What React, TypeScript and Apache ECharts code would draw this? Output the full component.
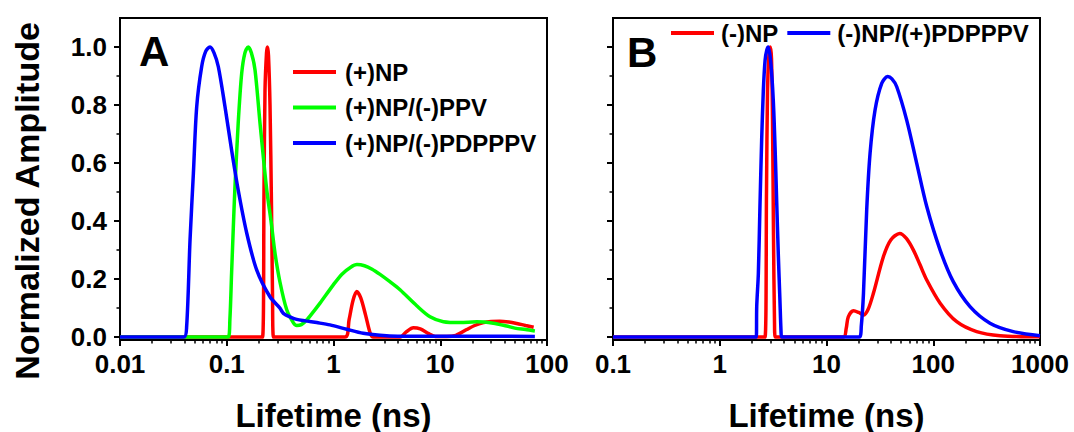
import React, { useEffect, useRef } from "react";
import * as echarts from "echarts";

// ---------- data ----------
const namesA = ["(+)NP", "(+)NP/(-)PPV", "(+)NP/(-)PDPPPV"];
const namesB = ["(-)NP", "(-)NP/(+)PDPPPV"];

const npPlus: [number, number][] = [
  [0.01, 0], [0.2163, 0], [0.2233, 0.5], [0.2282, 0.85], [0.2358, 0.98], [0.2408, 1.0],
  [0.2461, 0.97], [0.2542, 0.8], [0.2625, 0.45], [0.2683, 0.15], [0.2741, 0],
  [1.28, 0], [1.4, 0.06], [1.52, 0.125], [1.65, 0.157], [1.8, 0.135], [2.0, 0.075],
  [2.2, 0.015], [2.35, 0], [4.2, 0], [4.8, 0.018], [5.6, 0.032], [6.5, 0.028],
  [7.8, 0.012], [9.0, 0.002], [11.5, 0.002], [14, 0.006], [17.7, 0.026], [21, 0.04],
  [25.4, 0.05], [30, 0.054], [36, 0.055], [44, 0.052], [52, 0.047], [63, 0.04], [75, 0.034],
];

const npPpv: [number, number][] = [
  [0.01, 0], [0.103, 0], [0.107, 0.06], [0.111, 0.22], [0.115, 0.37], [0.119, 0.507],
  [0.128, 0.737], [0.138, 0.909], [0.148, 0.98], [0.159, 1.0], [0.17, 0.98], [0.184, 0.921],
  [0.205, 0.737], [0.237, 0.507], [0.26, 0.4], [0.283, 0.29], [0.315, 0.19], [0.364, 0.095],
  [0.42, 0.05], [0.452, 0.04], [0.5, 0.043], [0.561, 0.059], [0.65, 0.088], [0.748, 0.117],
  [0.996, 0.18], [1.2, 0.217], [1.45, 0.241], [1.66, 0.25], [1.95, 0.246], [2.3, 0.234],
  [2.73, 0.216], [3.4, 0.19], [4.2, 0.163], [6.02, 0.108], [8.02, 0.07], [10.7, 0.053],
  [15.3, 0.05], [21.9, 0.053], [31.4, 0.048], [41.9, 0.038], [50, 0.031], [63, 0.026], [77, 0.021],
];

const npPdpppv: [number, number][] = [
  [0.01, 0], [0.0395, 0], [0.0421, 0.036], [0.0453, 0.335], [0.0487, 0.565], [0.0523, 0.794],
  [0.0582, 0.932], [0.0635, 0.985], [0.0697, 1.0], [0.076, 0.98], [0.0834, 0.932],
  [0.0963, 0.794], [0.111, 0.645], [0.128, 0.507], [0.154, 0.358], [0.191, 0.231],
  [0.254, 0.139], [0.315, 0.1], [0.339, 0.082], [0.4, 0.068], [0.452, 0.061], [0.55, 0.056],
  [0.697, 0.05], [0.927, 0.042], [1.33, 0.027], [1.9, 0.013], [2.73, 0.006], [4.0, 0.003],
  [10, 0.003], [30, 0.003], [77, 0.002],
];

const npMinus: [number, number][] = [
  [0.1, 0], [2.654, 0], [2.741, 0.5], [2.802, 0.85], [2.893, 0.98], [2.976, 1.0], [3.053, 0.96],
  [3.12, 0.75], [3.188, 0.35], [3.258, 0.05], [3.314, 0], [14.4, 0], [15.3, 0.03], [16.0, 0.07],
  [17.9, 0.091], [20, 0.085], [22.2, 0.076], [24.5, 0.095], [27.5, 0.151], [34.1, 0.277],
  [40, 0.335], [48.5, 0.357], [56, 0.34], [65.2, 0.3], [75, 0.25], [86.9, 0.197], [116, 0.117],
  [166, 0.053], [255, 0.019], [422, 0.005], [1000, 0.001],
];

const npMinusPdpppv: [number, number][] = [
  [0.1, 0], [2.2, 0], [2.22, 0.105], [2.3, 0.22], [2.38, 0.45], [2.47, 0.68], [2.56, 0.85],
  [2.66, 0.955], [2.76, 0.99], [2.85, 1.0], [3.0, 0.95], [3.17, 0.82], [3.3, 0.65], [3.41, 0.475],
  [3.54, 0.28], [3.66, 0.13], [3.75, 0.02], [3.8, 0], [20.3, 0], [21.2, 0.04], [22.2, 0.151],
  [23.8, 0.438], [25.6, 0.634], [28.5, 0.783], [32.9, 0.875], [37.4, 0.898], [41, 0.89],
  [45.5, 0.863], [56.4, 0.748], [70, 0.599], [86.9, 0.45], [116, 0.3], [154, 0.191],
  [221, 0.105], [340, 0.048], [562, 0.019], [1000, 0.005],
];

const yMajorTicks = [0, 0.2, 0.4, 0.6, 0.8, 1.0];
const yMinorTicks = [0.1, 0.3, 0.5, 0.7, 0.9];
const minorMultipliers = [2, 3, 4, 5, 6, 7, 8, 9];
const decadesA = [-2, -1, 0, 1];
const decadesB = [-1, 0, 1, 2];

const FONT = "'Liberation Sans', Arial, Helvetica, sans-serif";

export default function App() {
  const ref = useRef<HTMLDivElement>(null);

  useEffect(() => {
    document.body.style.margin = "0";
    if (!ref.current) return;
    const chart = echarts.init(ref.current, undefined, { renderer: "svg" });

    const minorA = decadesA.flatMap((d) => minorMultipliers.map((k) => d + Math.log10(k)));
    const minorB = decadesB.flatMap((d) => minorMultipliers.map((k) => d + Math.log10(k)));

    const axisLine = { onZero: false, lineStyle: { color: "#000", width: 2 } };
    const tickLabel = {
      fontSize: 26,
      fontWeight: "bold" as const,
      color: "#000",
      fontFamily: FONT,
    };
    const fmtLog = (v: number) => parseFloat(Number(v).toPrecision(6)).toString();

    const logX = (grid: number, min: number, max: number) => ({
      gridIndex: grid,
      type: "log" as const,
      logBase: 10,
      min,
      max,
      position: "bottom" as const,
      axisLine,
      axisTick: { length: 6, lineStyle: { color: "#000", width: 2 } },
      axisLabel: { ...tickLabel, margin: 11, formatter: fmtLog },
      splitLine: { show: false },
    });
    const minorX = (grid: number, min: number, max: number, vals: number[]) => ({
      gridIndex: grid,
      type: "value" as const,
      min,
      max,
      position: "bottom" as const,
      axisLine: { show: false, onZero: false },
      axisTick: { customValues: vals, length: 3.5, lineStyle: { color: "#000", width: 1.5 } },
      axisLabel: { show: false },
      splitLine: { show: false },
    });
    const yMain = (grid: number, showLabels: boolean) => ({
      gridIndex: grid,
      type: "value" as const,
      min: -0.01,
      max: 1.1,
      position: "left" as const,
      axisLine,
      axisTick: { customValues: yMajorTicks, length: 6, lineStyle: { color: "#000", width: 2 } },
      axisLabel: {
        ...tickLabel,
        show: showLabels,
        margin: 13,
        customValues: yMajorTicks,
        formatter: (v: number) => v.toFixed(1),
      },
      splitLine: { show: false },
    });
    const yMinor = (grid: number) => ({
      gridIndex: grid,
      type: "value" as const,
      min: -0.01,
      max: 1.1,
      position: "left" as const,
      axisLine: { show: false, onZero: false },
      axisTick: { customValues: yMinorTicks, length: 3.5, lineStyle: { color: "#000", width: 1.5 } },
      axisLabel: { show: false },
      splitLine: { show: false },
    });

    const line = (name: string, data: [number, number][], color: string, xi: number, yi: number) => ({
      name,
      type: "line" as const,
      xAxisIndex: xi,
      yAxisIndex: yi,
      data,
      showSymbol: false,
      smooth: 0.3,
      color,
      lineStyle: { color, width: 3.5 },
    });

    const legendText = { fontSize: 24, fontWeight: "bold" as const, color: "#000", fontFamily: FONT, lineHeight: 24 };

    chart.setOption({
      animation: false,
      textStyle: { fontFamily: FONT },
      grid: [
        { left: 120, right: 527, top: 18, bottom: 92, show: true, borderColor: "#000", borderWidth: 2 },
        { left: 613, right: 34, top: 18, bottom: 92, show: true, borderColor: "#000", borderWidth: 2 },
      ],
      xAxis: [
        logX(0, 0.01, 100),
        minorX(0, -2, 2, minorA),
        logX(1, 0.1, 1000),
        minorX(1, -1, 3, minorB),
      ],
      yAxis: [yMain(0, true), yMinor(0), yMain(1, false), yMinor(1)],
      legend: [
        {
          data: namesA,
          orient: "vertical",
          left: 293,
          top: 60,
          padding: 0,
          itemWidth: 43,
          itemHeight: 4,
          itemGap: 11.5,
          icon: "rect",
          selectedMode: false,
          textStyle: { ...legendText, padding: [0, 0, 0, 4] },
        },
        {
          data: namesB,
          orient: "horizontal",
          left: 671,
          top: 21,
          padding: 0,
          itemWidth: 43,
          itemHeight: 4,
          itemGap: 9,
          icon: "rect",
          selectedMode: false,
          textStyle: { ...legendText, padding: [0, 0, 0, 2] },
        },
      ],
      series: [
        line(namesA[0], npPlus, "#ff0000", 0, 0),
        line(namesA[1], npPpv, "#00ff00", 0, 0),
        line(namesA[2], npPdpppv, "#0000ff", 0, 0),
        line(namesB[0], npMinus, "#ff0000", 2, 2),
        line(namesB[1], npMinusPdpppv, "#0000ff", 2, 2),
      ],
      graphic: [
        {
          type: "text",
          x: 139,
          y: 51,
          style: { text: "A", font: `bold 42px ${FONT}`, fill: "#000", textAlign: "left", textVerticalAlign: "middle" },
        },
        {
          type: "text",
          x: 627,
          y: 52,
          style: { text: "B", font: `bold 42px ${FONT}`, fill: "#000", textAlign: "left", textVerticalAlign: "middle" },
        },
        {
          type: "text",
          x: 27,
          y: 201,
          rotation: Math.PI / 2,
          style: {
            text: "Normalized Amplitude",
            font: `bold 34px ${FONT}`,
            fill: "#000",
            textAlign: "center",
            textVerticalAlign: "middle",
          },
        },
        {
          type: "text",
          x: 333.5,
          y: 415,
          style: { text: "Lifetime (ns)", font: `bold 33px ${FONT}`, fill: "#000", textAlign: "center", textVerticalAlign: "middle" },
        },
        {
          type: "text",
          x: 826.5,
          y: 415,
          style: { text: "Lifetime (ns)", font: `bold 33px ${FONT}`, fill: "#000", textAlign: "center", textVerticalAlign: "middle" },
        },
      ],
    });

    return () => chart.dispose();
  }, []);

  return <div ref={ref} style={{ width: 1074, height: 432 }} />;
}
